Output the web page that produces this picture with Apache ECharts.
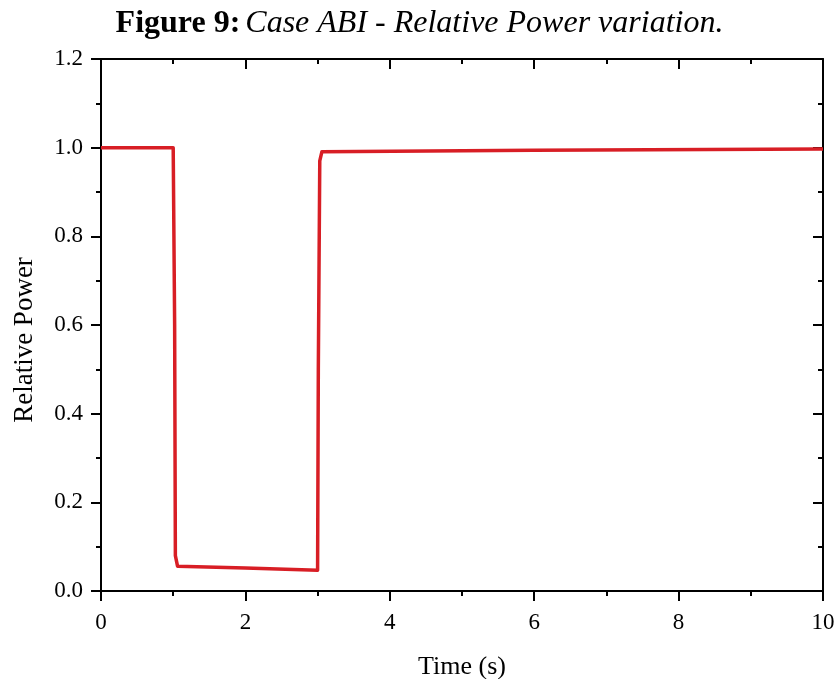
<!DOCTYPE html>
<html>
<head>
<meta charset="utf-8">
<script src="https://cdn.jsdelivr.net/npm/echarts@6/dist/echarts.min.js"></script>
<style>html,body{margin:0;padding:0;background:#fff;}#c{width:839px;height:679px;}</style>
</head>
<body>
<div id="c"></div>
<script>
const times  = [0, 1.0, 1.02, 1.03, 1.06, 2.0, 3.0, 3.01, 3.03, 3.06, 6.0, 10.0];
const power  = [1.0, 1.0, 0.6, 0.08, 0.056, 0.052, 0.047, 0.5, 0.97, 0.991, 0.994, 0.997];
const xTicks = [0, 2, 4, 6, 8, 10];
const yTicks = [0.0, 0.2, 0.4, 0.6, 0.8, 1.0, 1.2];

const font = '"Liberation Serif", "Times New Roman", serif';
const chart = echarts.init(document.getElementById('c'));
const axisLine = {show: true, onZero: false, lineStyle: {color: '#000', width: 2}};
const baseX = {
  type: 'value', min: xTicks[0], max: xTicks[xTicks.length-1], interval: 2,
  axisLine: axisLine, splitLine: {show: false},
  minorTick: {show: true, splitNumber: 2, length: 5, lineStyle: {color: '#000', width: 2}}
};
const baseY = {
  type: 'value', min: yTicks[0], max: yTicks[yTicks.length-1], interval: 0.2,
  axisLine: axisLine, splitLine: {show: false},
  minorTick: {show: true, splitNumber: 2, length: 5, lineStyle: {color: '#000', width: 2}}
};
chart.setOption({
  animation: false,
  backgroundColor: '#fff',
  title: {
    text: '{b|Figure 9:} {i|Case ABI - Relative Power variation.}',
    left: 'center', top: 3,
    textStyle: {
      fontWeight: 'normal',
      rich: {
        b: {fontFamily: font, fontWeight: 'bold', fontSize: 32, color: '#000'},
        i: {fontFamily: font, fontStyle: 'italic', fontWeight: 'normal', fontSize: 32, color: '#000'}
      }
    }
  },
  grid: {left: 101, right: 16, top: 59, bottom: 88, containLabel: false, outerBoundsMode: 'none'},
  xAxis: [
    Object.assign({}, baseX, {
      position: 'bottom',
      name: 'Time (s)', nameLocation: 'middle', nameGap: 63,
      nameTextStyle: {fontFamily: font, fontSize: 26, color: '#000'},
      axisTick: {show: true, inside: false, length: 10, lineStyle: {color: '#000', width: 2}},
      axisLabel: {fontFamily: font, fontSize: 23, color: '#000', margin: 20,
        formatter: v => String(v)}
    }),
    Object.assign({}, baseX, {
      position: 'top',
      axisTick: {show: true, inside: true, length: 10, lineStyle: {color: '#000', width: 2}},
      minorTick: {show: true, splitNumber: 2, length: 5, lineStyle: {color: '#000', width: 2}},
      axisLabel: {show: false}
    })
  ],
  yAxis: [
    Object.assign({}, baseY, {
      position: 'left',
      name: 'Relative Power', nameLocation: 'middle', nameGap: 63, nameRotate: 90,
      nameTextStyle: {fontFamily: font, fontSize: 27, color: '#000', padding: [0, 0, 0, -30]},
      axisTick: {show: true, inside: false, length: 10, lineStyle: {color: '#000', width: 2}},
      axisLabel: {fontFamily: font, fontSize: 23, color: '#000', margin: 18,
        formatter: v => v.toFixed(1)}
    }),
    Object.assign({}, baseY, {
      position: 'right',
      axisTick: {show: true, inside: true, length: 10, lineStyle: {color: '#000', width: 2}},
      minorTick: {show: true, splitNumber: 2, length: 5, lineStyle: {color: '#000', width: 2}},
      axisLabel: {show: false}
    })
  ],
  series: [{
    type: 'line',
    xAxisIndex: 0, yAxisIndex: 0,
    data: times.map((t, i) => [t, power[i]]),
    showSymbol: false, symbol: 'none',
    lineStyle: {color: '#d81e25', width: 3.5, join: 'round'},
    z: 1
  }]
});
</script>
</body>
</html>
